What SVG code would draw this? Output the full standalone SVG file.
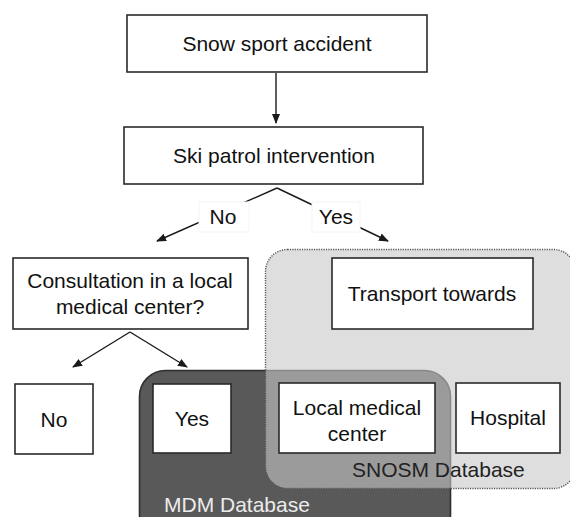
<svg xmlns="http://www.w3.org/2000/svg" width="570" height="517" viewBox="0 0 570 517">
<defs>
<style>
.box{fill:#fff;stroke:#2a2a2a;stroke-width:1.6}
.t{font-family:"Liberation Sans",Arial,sans-serif;font-size:21px;fill:#111;text-anchor:middle}
.conn{fill:none;stroke:#1a1a1a;stroke-width:1.4}
.lbl{fill:#fff;stroke:#f4f4f4;stroke-width:1}
</style>
<marker id="ah" viewBox="0 0 10 10" refX="9" refY="5" markerWidth="10" markerHeight="10" markerUnits="userSpaceOnUse" orient="auto">
<path d="M0,1 L10,5 L0,9 z" fill="#1a1a1a"/>
</marker>
</defs>
<rect width="570" height="517" fill="#fff"/>
<g id="mdm-db">
<rect x="139.5" y="370.5" width="311" height="170" rx="26" fill="#595959" stroke="#2e2e2e" stroke-width="1.6"/>
</g>
<g id="snosm-db">
<rect x="265.5" y="249.5" width="310" height="239" rx="22" fill="rgb(200,200,200)" fill-opacity="0.6" stroke="#555" stroke-width="1.4" stroke-dasharray="1.2,1.2"/>
</g>
<g id="connectors">
<line class="conn" x1="276" y1="73" x2="276" y2="123" marker-end="url(#ah)"/>
<line class="conn" x1="277" y1="188" x2="157" y2="241" marker-end="url(#ah)"/>
<line class="conn" x1="277" y1="188" x2="388" y2="241" marker-end="url(#ah)"/>
<line class="conn" x1="130" y1="332" x2="73" y2="367" marker-end="url(#ah)"/>
<line class="conn" x1="130" y1="332" x2="187" y2="367" marker-end="url(#ah)"/>
</g>
<g id="label-no">
<rect class="lbl" x="199" y="202" width="50" height="30"/>
<text class="t" x="223" y="224">No</text>
</g>
<g id="label-yes">
<rect class="lbl" x="312" y="202" width="48" height="30"/>
<text class="t" x="336" y="224">Yes</text>
</g>
<g id="snow-sport-accident">
<rect class="box" x="127" y="15" width="300" height="57"/>
<text class="t" x="277" y="51">Snow sport accident</text>
</g>
<g id="ski-patrol">
<rect class="box" x="124" y="127" width="299" height="57"/>
<text class="t" x="274" y="163">Ski patrol intervention</text>
</g>
<g id="consultation">
<rect class="box" x="13" y="258" width="235" height="71"/>
<text class="t" x="130" y="288">Consultation in a local</text>
<text class="t" x="130" y="314">medical center?</text>
</g>
<g id="transport">
<rect class="box" x="332" y="258" width="201" height="71"/>
<text class="t" x="432" y="301">Transport towards</text>
</g>
<g id="no">
<rect class="box" x="15" y="384" width="78" height="70"/>
<text class="t" x="54" y="427">No</text>
</g>
<g id="yes">
<rect class="box" x="153" y="384" width="78" height="69"/>
<text class="t" x="192" y="426">Yes</text>
</g>
<g id="local-medical-center">
<rect class="box" x="279" y="383" width="156" height="70"/>
<text class="t" x="357" y="415">Local medical</text>
<text class="t" x="357" y="441">center</text>
</g>
<g id="hospital">
<rect class="box" x="456" y="383" width="104" height="70"/>
<text class="t" x="508" y="425">Hospital</text>
</g>
<text class="t" x="352" y="477" style="text-anchor:start;fill:#222">SNOSM Database</text>
<text class="t" x="164" y="512" style="text-anchor:start;fill:#ececec">MDM Database</text>
</svg>
